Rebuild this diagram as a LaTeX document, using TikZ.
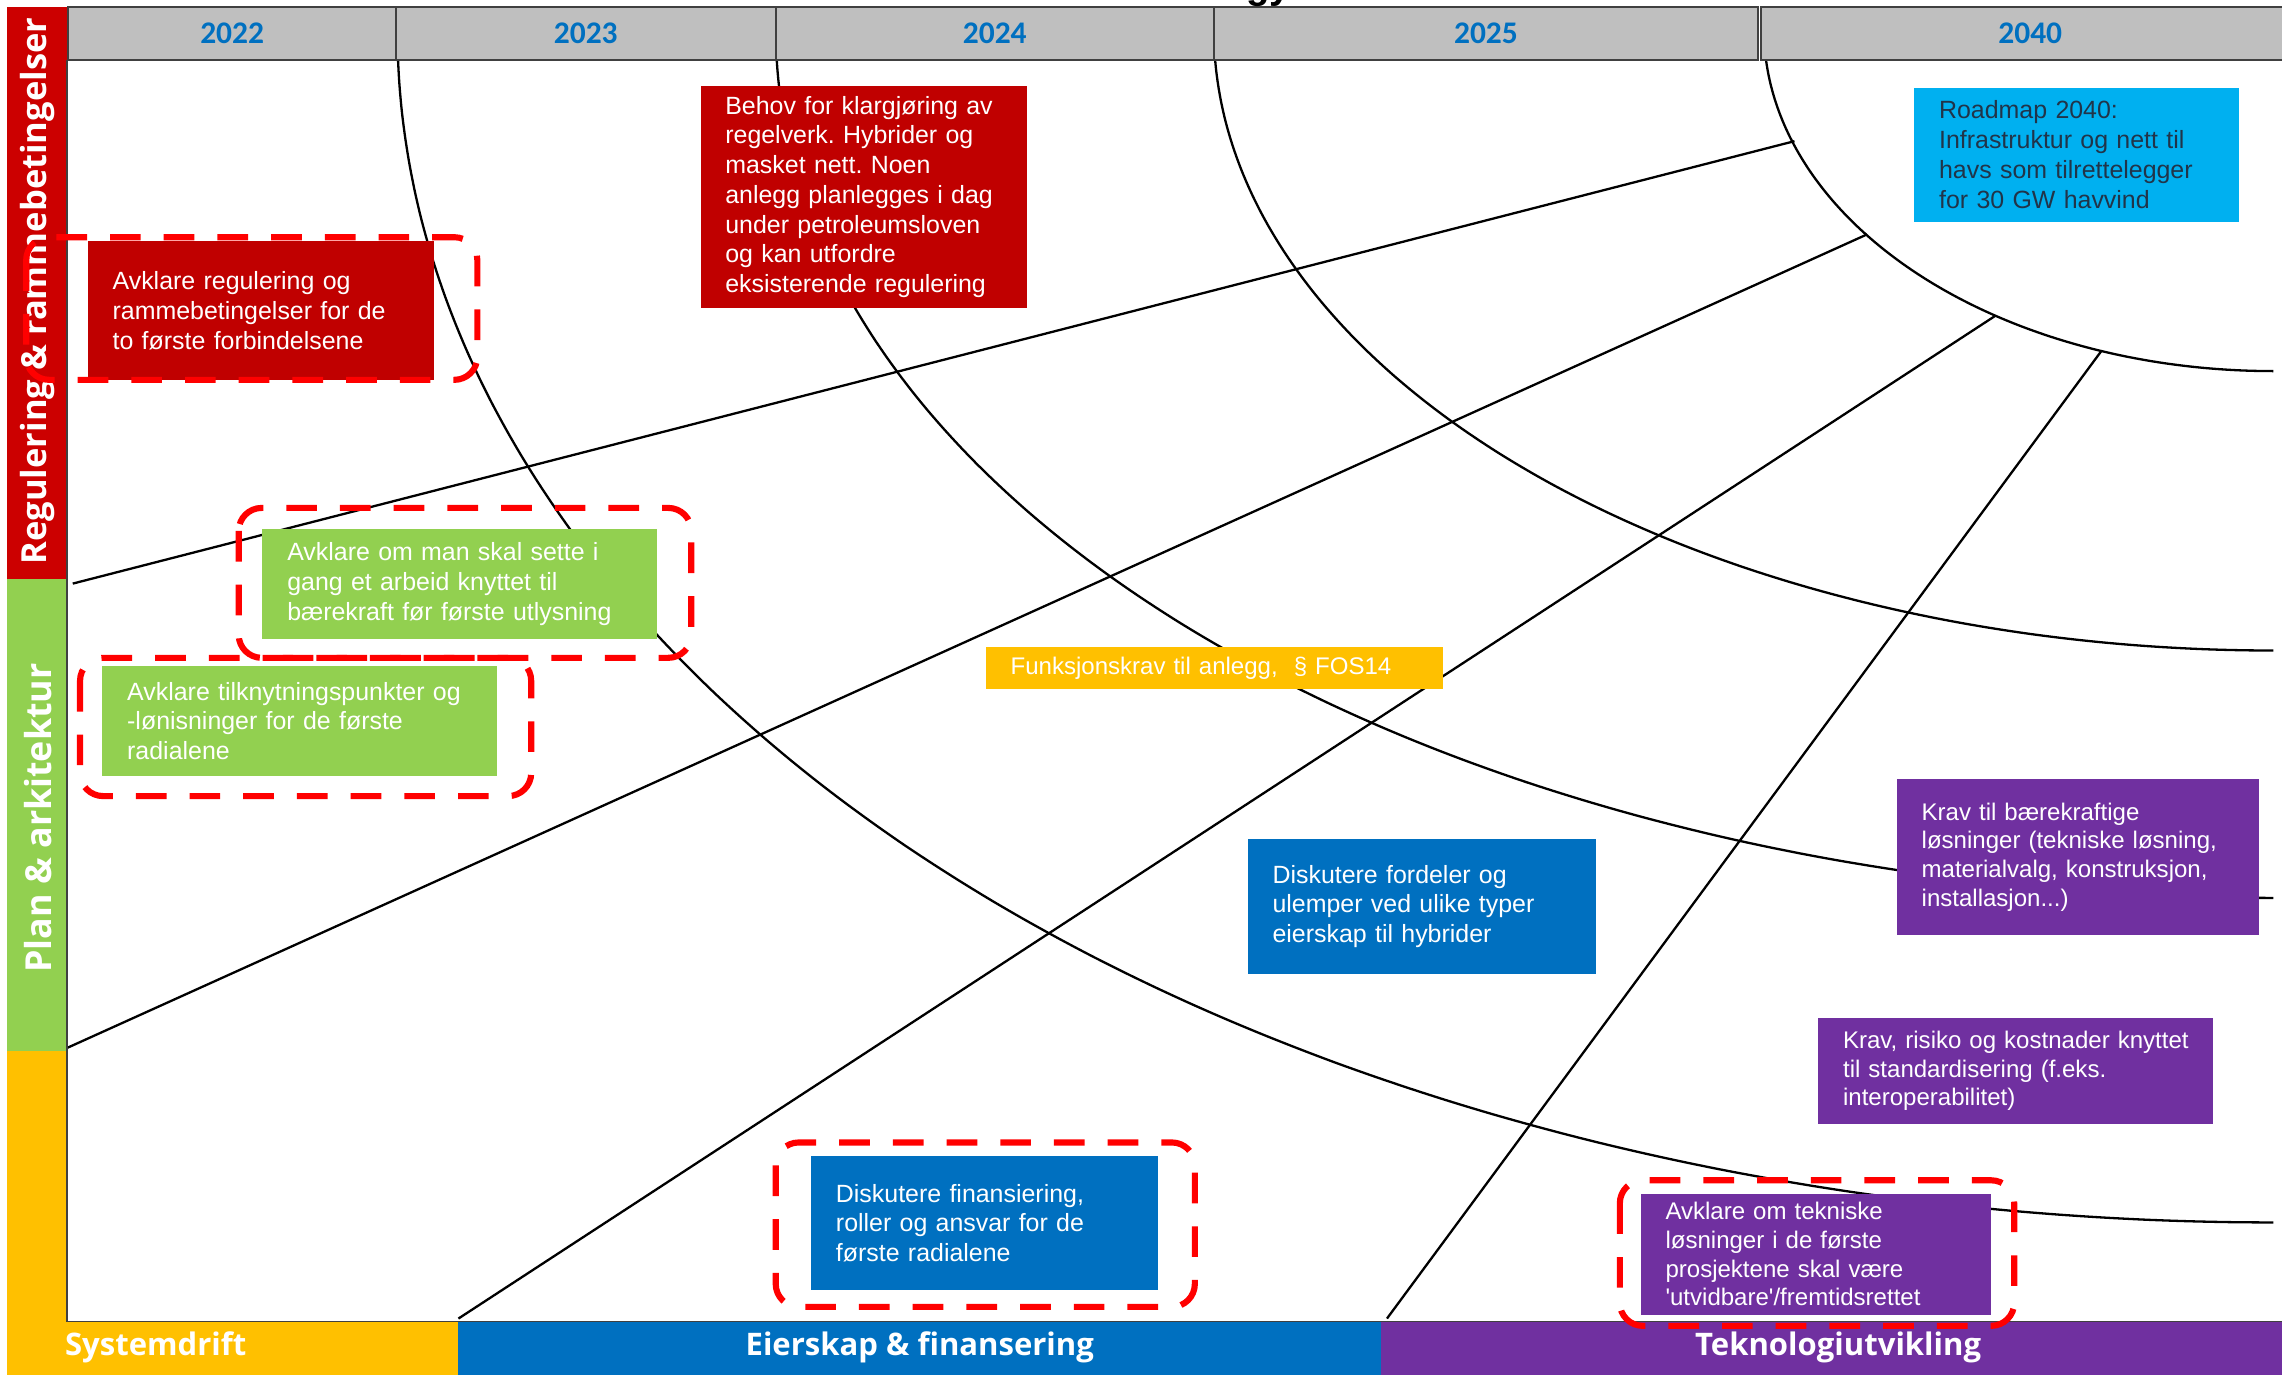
\documentclass[tikz,border=0pt]{standalone}
\usepackage{fontspec}
\setmainfont{Liberation Sans}
\newfontfamily\bandfont{Open Sans}
\newfontfamily\yearfont{Carlito}
\definecolor{regred}{HTML}{CC0000}
\definecolor{boxred}{HTML}{C00000}
\definecolor{plangreen}{HTML}{92D050}
\definecolor{sysyellow}{HTML}{FFC000}
\definecolor{ownblue}{HTML}{0070C0}
\definecolor{techpurple}{HTML}{7030A0}
\definecolor{mapcyan}{HTML}{00B0F0}
\definecolor{mapink}{HTML}{213449}
\definecolor{headgray}{HTML}{BFBFBF}
\definecolor{framegray}{HTML}{404040}
\definecolor{ringred}{HTML}{FF0000}
\newcommand{\cardfont}{\fontsize{9.75}{11.65}\selectfont}
\newcommand{\cardsmall}{\fontsize{9.4}{11.2}\selectfont}
\frenchspacing

\begin{document}
\begin{tikzpicture}[x=0.02cm,y=-0.02cm,
  web/.style={line width=0.9pt},
  card/.style 2 args={anchor=north west,inner sep=0pt,minimum width=#1*0.02cm,minimum height=#2*0.02cm,text width=#1*0.02cm,align=left,text=white,font=\cardfont,execute at begin node={\leftskip=9.7pt}},
  ring/.style={draw=ringred,line width=2.4pt,dash pattern=on 12pt off 9pt,rounded corners=9pt},
  band/.style={text=white,font=\bandfont\bfseries\fontsize{12.15}{15}\selectfont},
  sideband/.style={text=white,rotate=90,font=\bandfont\bfseries\fontsize{13.5}{16}\selectfont},
  yearcell/.style={fill=headgray,draw=framegray,line width=0.8pt},
  year/.style={text=ownblue,font=\yearfont\bfseries\fontsize{12.3}{14}\selectfont}]
\useasboundingbox (0,0) rectangle (1568,945);
% arcs out of the year marks
\foreach \x/\ry in {273/820,533/597,834/427,1212/235}
  \draw[web] plot[domain=0:90,samples=70,smooth,variable=\t] ({1562-(1562-\x)*cos(\t)},{20+\ry*sin(\t)});
% spokes
\coordinate (a1) at (50,401); \coordinate (b1) at (1233,97);
\coordinate (a2) at (44,721); \coordinate (b2) at (1283,161);
\coordinate (a3) at (315,906); \coordinate (b3) at (1371,217);
\coordinate (a4) at (953,906); \coordinate (b4) at (1444,241);
\foreach \i in {1,2,3,4}{\draw[web] (a\i) -- (b\i);}
% cards
\node[card={238}{96},fill=boxred] (regler) at (60,165) {Avklare regulering og\\rammebetingelser for de\\to første forbindelsene};
\node[card={224}{152},fill=boxred] (behov) at (481,59) {Behov for klargjøring av\\regelverk. Hybrider og\\masket nett. Noen\\anlegg planlegges i dag\\under petroleumsloven\\og kan utfordre\\eksisterende regulering};
\node[card={223}{92},fill=mapcyan,text=mapink] (roadmap) at (1315,60) {Roadmap 2040:\\Infrastruktur og nett til\\havs som tilrettelegger\\for 30 GW havvind};
\node[card={271}{76},fill=plangreen] (baerekraft) at (180,363) {Avklare om man skal sette i\\gang et arbeid knyttet til\\bærekraft før første utlysning};
\node[card={271}{76},fill=plangreen] (tilknytning) at (70,457) {Avklare tilknytningspunkter og\\-lønisninger for de første\\radialene};
\node[card={314}{29},fill=sysyellow,font=\cardsmall] (funksjon) at (677,444) {Funksjonskrav til anlegg,\ \ § FOS14};
\node[card={239}{93},fill=ownblue] (fordeler) at (857,576) {Diskutere fordeler og\\ulemper ved ulike typer\\eierskap til hybrider};
\node[card={249}{107},fill=techpurple,font=\cardsmall] (losninger) at (1303,535) {Krav til bærekraftige\\løsninger (tekniske løsning,\\materialvalg, konstruksjon,\\installasjon...)};
\node[card={271}{73},fill=techpurple,font=\cardsmall] (standard) at (1249,699) {Krav, risiko og kostnader knyttet\\til standardisering (f.eks.\\interoperabilitet)};
\node[card={238}{92},fill=ownblue] (finans) at (557,794) {Diskutere finansiering,\\roller og ansvar for de\\første radialene};
\node[card={241}{83},fill=techpurple,font=\cardsmall] (utvidbar) at (1127,820) {Avklare om tekniske\\løsninger i de første\\prosjektene skal være\\\textquotesingle utvidbare\textquotesingle/fremtidsrettet};
% side and bottom bands
\fill[regred] (5,5) rectangle (46,398);
\fill[plangreen] (5,398) rectangle (46,722);
\fill[sysyellow] (5,722) rectangle (46,945);
\fill[sysyellow] (5,908) rectangle (315,945);
\fill[ownblue] (315,908) rectangle (949,945);
\fill[techpurple] (949,908) rectangle (1568,945);
\draw[framegray,line width=0.7pt] (46,41) -- (46,908) -- (1568,908);
\node[sideband] (reg) at (26,200) {Regulering \& rammebetingelser};
\node[sideband,font=\bandfont\bfseries\fontsize{14}{16}\selectfont] (plan) at (26,562) {Plan \& arkitektur};
\node[band] (sys) at (107,926) {Systemdrift};
\node[band] (eier) at (632,926) {Eierskap \& finansering};
\node[band] (tek) at (1263,926) {Teknologiutvikling};
% year header
\foreach \a/\b/\yr in {47/272/2022,272/533/2023,533/834/2024,834/1208/2025,1210/1580/2040}{
  \draw[yearcell] (\a,5) rectangle (\b,41);
  \node[year] (y\yr) at ({(\a+\b)/2},23) {\yr};}
\node[font=\bfseries\fontsize{15}{17}\selectfont,anchor=base west] (ttl) at (850,-1) {gy};
% dashed marks
\draw[ring] (18,163) rectangle (328,261);
\draw[ring] (164,349) rectangle (475,452);
\draw[ring] (55,452) rectangle (365,547);
\draw[ring] (533,785) rectangle (821,898);
\draw[ring] (1113,811) rectangle (1384,911);
\end{tikzpicture}
\end{document}
